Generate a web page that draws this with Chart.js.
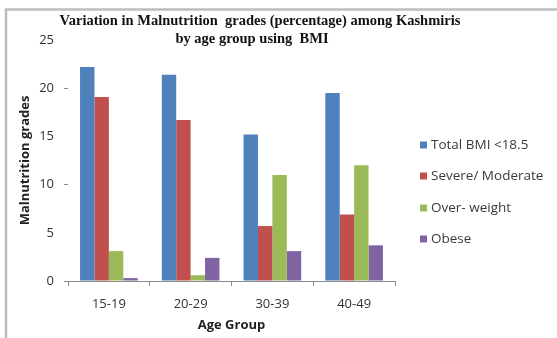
<!DOCTYPE html>
<html>
<head>
<meta charset="utf-8">
<script src="https://cdn.jsdelivr.net/npm/chart.js@4"></script>
<style>
  html, body { margin: 0; padding: 0; background: #ffffff; }
  #wrap { position: relative; width: 557px; height: 338px; }
  canvas { display: block; }
</style>
</head>
<body>
<div id="wrap"><canvas id="c" width="557" height="338"></canvas></div>
<script>
// Age groups on the x axis
const ageGroups = ['15-19', '20-29', '30-39', '40-49'];

// Percentages per malnutrition grade
const totalBmi = [22.2, 21.4, 15.2, 19.5];
const severeModerate = [19.1, 16.7, 5.7, 6.9];
const overWeight = [3.1, 0.6, 11.0, 12.0];
const obese = [0.3, 2.4, 3.1, 3.7];

const seriesNames = ['Total BMI <18.5', 'Severe/ Moderate', 'Over- weight', 'Obese'];
const seriesColors = ['#4f81bd', '#c0504d', '#9bbb59', '#8064a2'];

const yTicks = [0, 5, 10, 15, 20, 25];

const titleLines = ['Variation in Malnutrition  grades (percentage) among Kashmiris', 'by age group using  BMI'];

const bodyFont = "'Open Sans', 'Liberation Sans', sans-serif";

// Frame, heading and legend drawn around the plot
const decorPlugin = {
  id: 'decor',
  beforeDraw(chart) {
    const ctx = chart.ctx;
    ctx.save();
    ctx.fillStyle = '#ffffff';
    ctx.fillRect(0, 0, chart.width, chart.height);
    ctx.strokeStyle = '#bdbdbd';
    ctx.lineWidth = 2.5;
    ctx.beginPath();
    ctx.moveTo(6, chart.height);
    ctx.lineTo(6, 9.5);
    ctx.lineTo(chart.width, 9.5);
    ctx.stroke();
    ctx.restore();
  },
  afterDraw(chart) {
    const ctx = chart.ctx;
    ctx.save();
    ctx.fillStyle = '#111111';
    ctx.font = "bold 14.5px 'Liberation Serif', 'Times New Roman', serif";
    ctx.textAlign = 'center';
    ctx.textBaseline = 'middle';
    ctx.fillText(titleLines[0], 260, 21);
    ctx.fillText(titleLines[1], 252, 39);

    // legend
    ctx.font = '13.5px ' + bodyFont;
    ctx.textAlign = 'left';
    const rows = [145, 176, 208, 239];
    chart.data.datasets.forEach((ds, i) => {
      ctx.fillStyle = ds.backgroundColor;
      ctx.fillRect(420, rows[i] - 3.5, 7, 7);
      ctx.fillStyle = '#3a3a3a';
      ctx.fillText(ds.label, 431, rows[i] + 0.5);
    });
    ctx.restore();
  }
};

const datasets = [totalBmi, severeModerate, overWeight, obese].map((vals, i) => ({
  label: seriesNames[i],
  data: vals,
  backgroundColor: seriesColors[i],
  borderWidth: 0,
  categoryPercentage: 0.705,
  barPercentage: 1.0
}));

new Chart(document.getElementById('c'), {
  type: 'bar',
  data: { labels: ageGroups, datasets },
  options: {
    responsive: false,
    animation: false,
    devicePixelRatio: 1,
    layout: { padding: { left: 0, right: 162, top: 40, bottom: 0 } },
    plugins: {
      legend: { display: false },
      title: { display: false },
      tooltip: { enabled: false }
    },
    scales: {
      x: {
        afterFit(scale) { scale.height = 57; },
        grid: {
          drawOnChartArea: false,
          tickLength: 5,
          tickColor: '#8c8c8c',
          offset: true
        },
        border: { display: true, color: '#8c8c8c', width: 1 },
        ticks: {
          padding: 10,
          color: '#333333',
          font: { family: bodyFont, size: 13 }
        },
        title: {
          display: true,
          text: 'Age Group',
          color: '#222222',
          font: { family: bodyFont, size: 13, weight: 'bold' },
          padding: { top: 0, bottom: 5 }
        }
      },
      y: {
        min: 0,
        max: 25,
        afterFit(scale) { scale.width = 68; },
        afterBuildTicks(scale) { scale.ticks = yTicks.map(v => ({ value: v })); },
        grid: {
          drawOnChartArea: false,
          tickLength: 4,
          tickColor: (c) => ([0, 10, 20].includes(c.tick && c.tick.value) ? '#8c8c8c' : 'rgba(0,0,0,0)')
        },
        border: { display: false },
        ticks: {
          padding: 10,
          color: '#333333',
          font: { family: bodyFont, size: 13 }
        },
        title: {
          display: true,
          text: 'Malnutrition grades',
          color: '#222222',
          font: { family: bodyFont, size: 13, weight: 'bold' },
          padding: { top: 17, bottom: 0 }
        }
      }
    }
  },
  plugins: [decorPlugin]
});
</script>
</body>
</html>
